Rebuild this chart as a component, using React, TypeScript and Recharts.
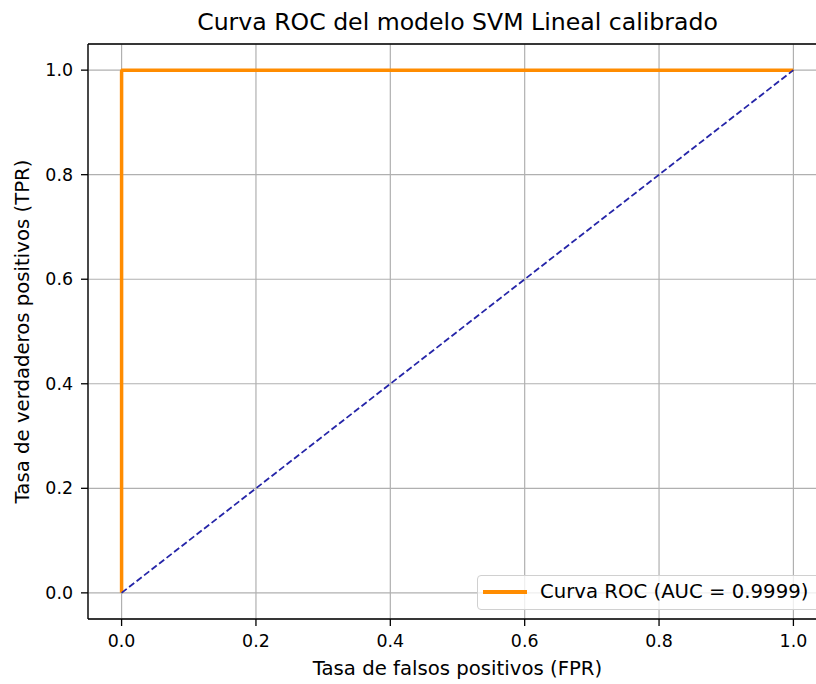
import React from "react"
import {
  LineChart,
  Line,
  XAxis,
  YAxis,
  CartesianGrid,
  ReferenceLine,
} from "recharts"

const rocFpr = [0, 0, 0.001, 1]
const rocTpr = [0, 0.998, 1, 1]
const chanceFpr = [0, 1]
const chanceTpr = [0, 1]
const xTicks = [0, 0.2, 0.4, 0.6, 0.8, 1.0]
const yTicks = [0, 0.2, 0.4, 0.6, 0.8, 1.0]

const rocData = rocFpr.map((x, i) => ({ x, y: rocTpr[i] }))
const chanceData = chanceFpr.map((x, i) => ({ x, y: chanceTpr[i] }))

const FONT = "'DejaVu Sans', sans-serif"
const tickStyle = { fill: "#000", fontSize: 17.4, fontFamily: FONT }

function YLabel(props: any) {
  const vb = props.viewBox || {}
  const cx = (vb.x ?? 0) + 22
  const cy = (vb.y ?? 0) + (vb.height ?? 0) / 2
  return (
    <text
      x={cx}
      y={cy}
      transform={`rotate(-90 ${cx} ${cy})`}
      textAnchor="middle"
      dominantBaseline="central"
      fontSize={19.7}
      fontFamily={FONT}
      fill="#000"
    >
      Tasa de verdaderos positivos (TPR)
    </text>
  )
}

function XLabel(props: any) {
  const vb = props.viewBox || {}
  const cx = (vb.x ?? 0) + (vb.width ?? 0) / 2
  const cy = (vb.y ?? 0) + 49
  return (
    <text
      x={cx}
      y={cy}
      textAnchor="middle"
      dominantBaseline="central"
      fontSize={19.7}
      fontFamily={FONT}
      fill="#000"
    >
      Tasa de falsos positivos (FPR)
    </text>
  )
}

export default function App() {
  return (
    <div
      style={{
        position: "absolute",
        left: 0,
        top: 0,
        width: 816,
        height: 684,
        overflow: "hidden",
        background: "#fff",
      }}
    >
      <svg
        width={816}
        height={44}
        style={{ position: "absolute", left: 0, top: 0 }}
      >
        <text
          x={457.5}
          y={30}
          textAnchor="middle"
          fontSize={23.6}
          fontFamily={FONT}
          fill="#000"
        >
          Curva ROC del modelo SVM Lineal calibrado
        </text>
      </svg>
      <div style={{ position: "absolute", left: 0, top: 0 }}>
        <LineChart
          width={836}
          height={684}
          margin={{ top: 44, right: 9, bottom: 0, left: 0 }}
        >
          <CartesianGrid stroke="#b0b0b0" strokeWidth={1.2} />
          <XAxis
            type="number"
            dataKey="x"
            domain={[-0.05, 1.05]}
            ticks={xTicks}
            allowDataOverflow
            tickFormatter={(v: number) => v.toFixed(1)}
            tick={tickStyle}
            tickLine={{ stroke: "#000", strokeWidth: 1.3 }}
            axisLine={{ stroke: "#000", strokeWidth: 1.3 }}
            tickSize={7}
            tickMargin={9}
            height={65}
            label={<XLabel />}
          />
          <YAxis
            type="number"
            domain={[-0.05, 1.05]}
            ticks={yTicks}
            allowDataOverflow
            tickFormatter={(v: number) => v.toFixed(1)}
            tick={tickStyle}
            tickLine={{ stroke: "#000", strokeWidth: 1.3 }}
            axisLine={{ stroke: "#000", strokeWidth: 1.3 }}
            tickSize={7}
            tickMargin={8}
            width={88}
            label={<YLabel />}
          />
          <ReferenceLine y={1.05} stroke="#000" strokeWidth={1.3} ifOverflow="visible" />
          <ReferenceLine x={1.05} stroke="#000" strokeWidth={1.3} ifOverflow="visible" />
          <Line
            data={rocData}
            dataKey="y"
            type="linear"
            stroke="#ff8c00"
            strokeWidth={3.5}
            dot={false}
            activeDot={false}
            isAnimationActive={false}
          />
          <Line
            data={chanceData}
            dataKey="y"
            type="linear"
            stroke="#2525a8"
            strokeWidth={1.8}
            strokeDasharray="6.5 3"
            dot={false}
            activeDot={false}
            isAnimationActive={false}
          />
        </LineChart>
      </div>
      <div
        style={{
          position: "absolute",
          left: 477,
          top: 575,
          width: 343,
          height: 35,
          boxSizing: "border-box",
          border: "1px solid #d0d0d0",
          borderRadius: 4,
          background: "rgba(255,255,255,0.8)",
          fontFamily: FONT,
          fontSize: 19.7,
          color: "#000",
        }}
      >
        <div
          style={{
            position: "absolute",
            left: 5,
            top: 14,
            width: 44,
            height: 3.5,
            background: "#ff8c00",
          }}
        />
        <div
          style={{
            position: "absolute",
            left: 62,
            top: 3,
            lineHeight: "26px",
            whiteSpace: "nowrap",
          }}
        >
          Curva ROC (AUC = 0.9999)
        </div>
      </div>
    </div>
  )
}
